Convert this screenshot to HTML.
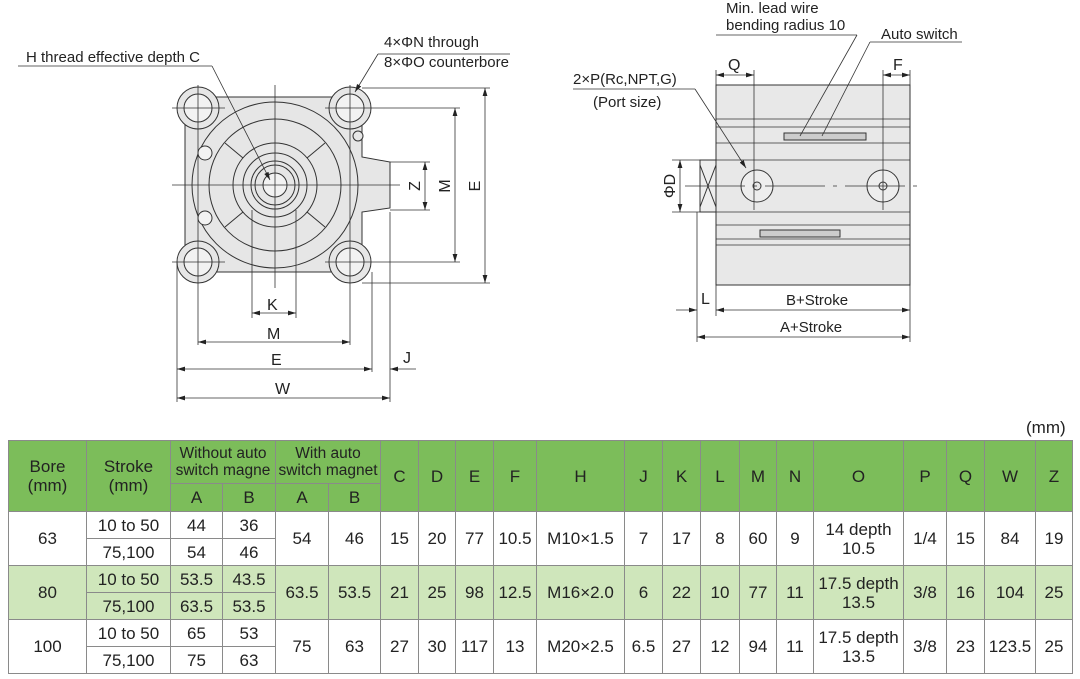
<!DOCTYPE html>
<html><head><meta charset="utf-8"><style>
body{margin:0;background:#fff;width:1080px;height:679px;overflow:hidden;position:relative;font-family:"Liberation Sans",sans-serif;}
svg{position:absolute;left:0;top:0}
table{position:absolute;left:8px;top:440px;border-collapse:collapse;table-layout:fixed;font-size:17px;color:#222;}
td{border:1px solid #8a8a8a;text-align:center;padding:0;line-height:19px;white-space:nowrap;}
.h td{background:#7cbd5a;}
.g td{background:#cfe6bb;}
.s{font-size:15.5px;line-height:17px}
.mm{position:absolute;left:1026px;top:418px;font-size:17px;color:#222}
</style></head><body>
<svg width="1080" height="430" viewBox="0 0 1080 430" font-family="Liberation Sans, sans-serif" font-size="15" fill="#222">
<defs><marker id="a" viewBox="0 0 10 6" refX="10" refY="3" markerWidth="10" markerHeight="6" orient="auto-start-reverse"><path d="M0,0L10,3L0,6z" fill="#222"/></marker></defs>
<!-- LEFT VIEW -->
<g stroke="#333" stroke-width="1" fill="#e6e6e6">
<path d="M185,97 L362,97 L362,157 L390,162 L390,208 L362,212 L362,272 L185,272 Z"/>
<circle cx="198" cy="108" r="21"/><circle cx="350" cy="108" r="21"/><circle cx="198" cy="262" r="21"/><circle cx="350" cy="262" r="21"/>
<circle cx="198" cy="108" r="14" fill="#f2f2f2"/><circle cx="350" cy="108" r="14" fill="#f2f2f2"/><circle cx="198" cy="262" r="14" fill="#f2f2f2"/><circle cx="350" cy="262" r="14" fill="#f2f2f2"/>
<circle cx="275" cy="185" r="83"/><circle cx="275" cy="185" r="66"/>
<circle cx="275" cy="185" r="42"/><circle cx="275" cy="185" r="32"/><circle cx="275" cy="185" r="24"/><circle cx="275" cy="185" r="20"/><circle cx="275" cy="185" r="12" fill="#f2f2f2"/>
<circle cx="205" cy="153" r="7" fill="#f2f2f2"/><circle cx="205" cy="218" r="7" fill="#f2f2f2"/>
<circle cx="358" cy="136" r="5"/>
<path d="M225,143 L243,158 M325,143 L307,158 M225,227 L243,212 M325,227 L307,212" fill="none"/>
</g>
<g stroke="#333" stroke-width="0.8" fill="none">
<line x1="172" y1="185" x2="400" y2="185"/><line x1="275" y1="85" x2="275" y2="288"/>
<line x1="172" y1="108" x2="225" y2="108"/><line x1="325" y1="108" x2="460" y2="108"/>
<line x1="172" y1="262" x2="225" y2="262"/><line x1="325" y1="262" x2="460" y2="262"/>
<line x1="198" y1="85" x2="198" y2="345"/><line x1="350" y1="85" x2="350" y2="345"/>
<line x1="362" y1="88" x2="490" y2="88"/><line x1="362" y1="283" x2="490" y2="283"/>
<line x1="390" y1="162" x2="430" y2="162"/><line x1="390" y1="210" x2="430" y2="210"/>
<line x1="252" y1="210" x2="252" y2="318"/><line x1="296" y1="210" x2="296" y2="318"/>
<line x1="177" y1="262" x2="177" y2="402"/><line x1="372" y1="272" x2="372" y2="372"/><line x1="390" y1="212" x2="390" y2="402"/>
<line x1="18" y1="66" x2="212" y2="66"/><line x1="212" y1="66" x2="270" y2="180" marker-end="url(#a)"/>
<line x1="378" y1="54" x2="510" y2="54"/><line x1="378" y1="54" x2="355" y2="92" marker-end="url(#a)"/>
<line x1="485" y1="88" x2="485" y2="283" marker-start="url(#a)" marker-end="url(#a)"/>
<line x1="455" y1="108" x2="455" y2="262" marker-start="url(#a)" marker-end="url(#a)"/>
<line x1="425" y1="162" x2="425" y2="210" marker-start="url(#a)" marker-end="url(#a)"/>
<line x1="252" y1="313" x2="296" y2="313" marker-start="url(#a)" marker-end="url(#a)"/>
<line x1="198" y1="342" x2="350" y2="342" marker-start="url(#a)" marker-end="url(#a)"/>
<line x1="177" y1="369" x2="372" y2="369" marker-start="url(#a)" marker-end="url(#a)"/>
<line x1="416" y1="369" x2="390" y2="369" marker-end="url(#a)"/>
<line x1="177" y1="398" x2="390" y2="398" marker-start="url(#a)" marker-end="url(#a)"/>
</g>
<text x="26" y="62">H thread effective depth C</text>
<text x="384" y="47">4×ΦN through</text><text x="384" y="67">8×ΦO counterbore</text>
<text x="267" y="310" font-size="16">K</text><text x="267" y="339" font-size="16">M</text><text x="271" y="365" font-size="16">E</text><text x="403" y="363" font-size="16">J</text><text x="275" y="394" font-size="16">W</text>
<text transform="translate(420,186) rotate(-90)" text-anchor="middle" font-size="16">Z</text>
<text transform="translate(450,186) rotate(-90)" text-anchor="middle" font-size="16">M</text>
<text transform="translate(480,186) rotate(-90)" text-anchor="middle" font-size="16">E</text>
<!-- RIGHT VIEW -->
<g stroke="#333" stroke-width="1" fill="#e8e8e8">
<rect x="716" y="85" width="194" height="200"/>
<rect x="700" y="160" width="16" height="52" fill="#eee"/>
<path d="M700,165 L716,207 M716,165 L700,207" fill="none"/>
<circle cx="757" cy="186" r="16" fill="#eee"/><circle cx="757" cy="186" r="4"/>
<circle cx="883" cy="186" r="16" fill="#eee"/><circle cx="883" cy="186" r="4"/>
<rect x="784" y="133" width="82" height="7" fill="#ccc"/><rect x="760" y="230" width="80" height="7" fill="#ccc"/>
</g>
<g stroke="#333" stroke-width="0.8" fill="none">
<line x1="716" y1="119" x2="910" y2="119"/><line x1="716" y1="127" x2="910" y2="127"/><line x1="716" y1="143" x2="910" y2="143"/>
<line x1="716" y1="160" x2="910" y2="160"/><line x1="716" y1="212" x2="910" y2="212"/><line x1="716" y1="225" x2="910" y2="225"/>
<line x1="716" y1="239" x2="910" y2="239"/><line x1="716" y1="245" x2="910" y2="245"/>
<line x1="685" y1="186" x2="925" y2="186" stroke-dasharray="60 8 4 8"/>
<line x1="716" y1="70" x2="716" y2="85"/><line x1="910" y1="70" x2="910" y2="85"/>
<line x1="754" y1="70" x2="754" y2="210"/><line x1="883" y1="70" x2="883" y2="210"/>
<line x1="716" y1="75" x2="754" y2="75" marker-start="url(#a)" marker-end="url(#a)"/>
<line x1="883" y1="75" x2="910" y2="75" marker-start="url(#a)" marker-end="url(#a)"/>
<line x1="672" y1="160" x2="700" y2="160"/><line x1="672" y1="212" x2="700" y2="212"/>
<line x1="680" y1="160" x2="680" y2="212" marker-start="url(#a)" marker-end="url(#a)"/>
<line x1="697" y1="212" x2="697" y2="342"/><line x1="716" y1="285" x2="716" y2="316"/><line x1="910" y1="285" x2="910" y2="342"/>
<line x1="676" y1="310" x2="697" y2="310" marker-end="url(#a)"/>
<line x1="716" y1="310" x2="910" y2="310" marker-start="url(#a)" marker-end="url(#a)"/>
<line x1="697" y1="337" x2="910" y2="337" marker-start="url(#a)" marker-end="url(#a)"/>
<line x1="573" y1="89" x2="695" y2="89"/><line x1="695" y1="89" x2="746" y2="168" marker-end="url(#a)"/>
<line x1="716" y1="35" x2="857" y2="35"/><line x1="857" y1="35" x2="800" y2="136"/>
<line x1="870" y1="42" x2="962" y2="42"/><line x1="870" y1="42" x2="822" y2="136"/>
</g>
<text x="726" y="13">Min. lead wire</text><text x="726" y="30">bending radius 10</text>
<text x="881" y="39">Auto switch</text>
<text x="573" y="84">2×P(Rc,NPT,G)</text><text x="593" y="107">(Port size)</text>
<text x="728" y="70" font-size="16">Q</text><text x="893" y="70" font-size="16">F</text>
<text x="701" y="304" font-size="16">L</text><text x="786" y="305">B+Stroke</text><text x="780" y="332">A+Stroke</text>
<text transform="translate(675,186) rotate(-90)" text-anchor="middle" font-size="16">ΦD</text>
</svg>
<div class="mm">(mm)</div>
<table>
<colgroup><col style="width:78px"><col style="width:84px"><col style="width:52px"><col style="width:53px"><col style="width:53px"><col style="width:52px"><col style="width:38px"><col style="width:37px"><col style="width:38px"><col style="width:43px"><col style="width:88px"><col style="width:38px"><col style="width:38px"><col style="width:39px"><col style="width:37px"><col style="width:37px"><col style="width:90px"><col style="width:43px"><col style="width:38px"><col style="width:51px"><col style="width:37px"></colgroup>
<tr class="h" style="height:43px"><td rowspan="2">Bore<br>(mm)</td><td rowspan="2">Stroke<br>(mm)</td><td colspan="2" class="s">Without auto<br>switch magne</td><td colspan="2" class="s">With auto<br>switch magnet</td><td rowspan="2">C</td><td rowspan="2">D</td><td rowspan="2">E</td><td rowspan="2">F</td><td rowspan="2">H</td><td rowspan="2">J</td><td rowspan="2">K</td><td rowspan="2">L</td><td rowspan="2">M</td><td rowspan="2">N</td><td rowspan="2">O</td><td rowspan="2">P</td><td rowspan="2">Q</td><td rowspan="2">W</td><td rowspan="2">Z</td></tr>
<tr class="h" style="height:28px"><td>A</td><td>B</td><td>A</td><td>B</td></tr>
<tr style="height:27px"><td rowspan="2">63</td><td>10 to 50</td><td>44</td><td>36</td><td rowspan="2">54</td><td rowspan="2">46</td><td rowspan="2">15</td><td rowspan="2">20</td><td rowspan="2">77</td><td rowspan="2">10.5</td><td rowspan="2">M10×1.5</td><td rowspan="2">7</td><td rowspan="2">17</td><td rowspan="2">8</td><td rowspan="2">60</td><td rowspan="2">9</td><td rowspan="2">14 depth<br>10.5</td><td rowspan="2">1/4</td><td rowspan="2">15</td><td rowspan="2">84</td><td rowspan="2">19</td></tr>
<tr style="height:27px"><td>75,100</td><td>54</td><td>46</td></tr>
<tr class="g" style="height:27px"><td rowspan="2">80</td><td>10 to 50</td><td>53.5</td><td>43.5</td><td rowspan="2">63.5</td><td rowspan="2">53.5</td><td rowspan="2">21</td><td rowspan="2">25</td><td rowspan="2">98</td><td rowspan="2">12.5</td><td rowspan="2">M16×2.0</td><td rowspan="2">6</td><td rowspan="2">22</td><td rowspan="2">10</td><td rowspan="2">77</td><td rowspan="2">11</td><td rowspan="2">17.5 depth<br>13.5</td><td rowspan="2">3/8</td><td rowspan="2">16</td><td rowspan="2">104</td><td rowspan="2">25</td></tr>
<tr class="g" style="height:27px"><td>75,100</td><td>63.5</td><td>53.5</td></tr>
<tr style="height:27px"><td rowspan="2">100</td><td>10 to 50</td><td>65</td><td>53</td><td rowspan="2">75</td><td rowspan="2">63</td><td rowspan="2">27</td><td rowspan="2">30</td><td rowspan="2">117</td><td rowspan="2">13</td><td rowspan="2">M20×2.5</td><td rowspan="2">6.5</td><td rowspan="2">27</td><td rowspan="2">12</td><td rowspan="2">94</td><td rowspan="2">11</td><td rowspan="2">17.5 depth<br>13.5</td><td rowspan="2">3/8</td><td rowspan="2">23</td><td rowspan="2">123.5</td><td rowspan="2">25</td></tr>
<tr style="height:27px"><td>75,100</td><td>75</td><td>63</td></tr>
</table>
</body></html>
